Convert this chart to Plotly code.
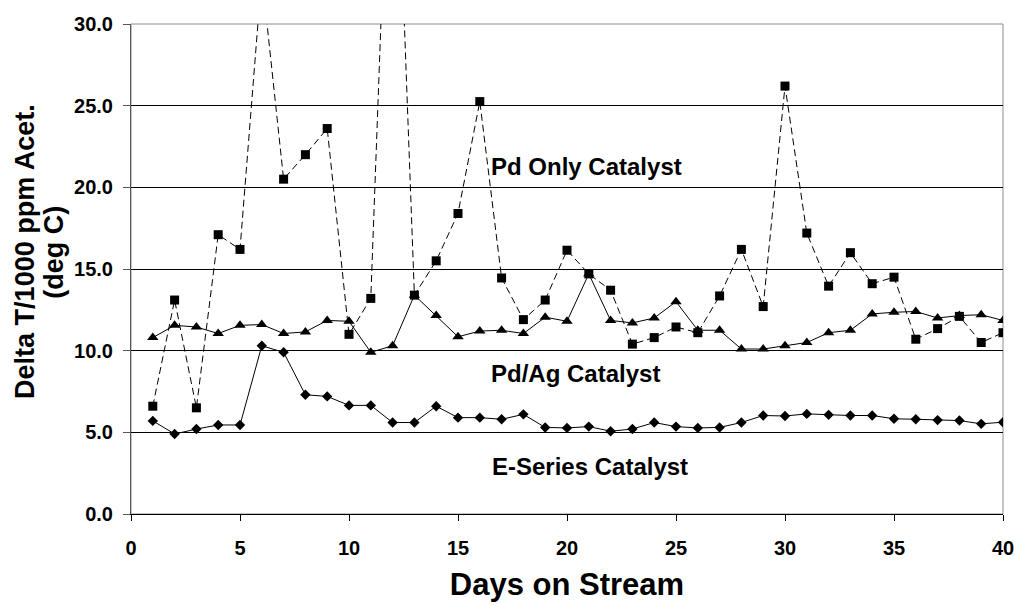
import plotly.graph_objects as go

# Days on stream and measured delta T per 1000 ppm acetylene (deg C)
days = list(range(1, 41))

pd_only = [6.6, 13.1, 6.5, 17.1, 16.2, 33.0, 20.5, 22.0, 23.6, 11.0,
           13.2, 49.5, 13.4, 15.5, 18.4, 25.25, 14.45, 11.9, 13.1, 16.15,
           14.7, 13.7, 10.4, 10.8, 11.45, 11.1, 13.35, 16.2, 12.7, 26.2,
           17.2, 13.95, 16.0, 14.1, 14.5, 10.7, 11.35, 12.1, 10.5, 11.1]

pd_ag = [10.8, 11.55, 11.45, 11.05, 11.55, 11.6, 11.05, 11.15, 11.85, 11.8,
         9.9, 10.3, 13.4, 12.15, 10.85, 11.2, 11.25, 11.05, 12.05, 11.8,
         14.7, 11.85, 11.7, 12.0, 13.0, 11.25, 11.25, 10.1, 10.1, 10.3,
         10.5, 11.1, 11.25, 12.25, 12.35, 12.4, 12.0, 12.15, 12.2, 11.85]

e_series = [5.7, 4.9, 5.2, 5.45, 5.45, 10.3, 9.9, 7.3, 7.2, 6.65,
            6.65, 5.6, 5.6, 6.6, 5.9, 5.9, 5.8, 6.1, 5.3, 5.27,
            5.35, 5.07, 5.2, 5.6, 5.35, 5.27, 5.3, 5.6, 6.03, 6.0,
            6.13, 6.07, 6.03, 6.03, 5.83, 5.8, 5.75, 5.72, 5.52, 5.62]

series_labels = ["Pd Only Catalyst", "Pd/Ag Catalyst", "E-Series Catalyst"]
label_pos_x = [20.9, 20.4, 21.05]
label_pos_y = [21.25, 8.6, 2.9]

y_title_lines = ["Delta T/1000 ppm Acet.", "(deg C)"]

y_ticks = [0, 5, 10, 15, 20, 25, 30]
x_ticks = [0, 5, 10, 15, 20, 25, 30, 35, 40]

FONT = "Arial, Liberation Sans, sans-serif"

fig = go.Figure()

fig.add_trace(go.Scatter(
    x=days, y=pd_only, mode="lines+markers", name=series_labels[0],
    line=dict(color="black", width=1, dash="7px,4px"),
    marker=dict(symbol="square", size=9, color="black"),
))
fig.add_trace(go.Scatter(
    x=days, y=pd_ag, mode="lines+markers", name=series_labels[1],
    line=dict(color="black", width=1),
    marker=dict(symbol="triangle-up", size=10, color="black"),
))
fig.add_trace(go.Scatter(
    x=days, y=e_series, mode="lines+markers", name=series_labels[2],
    line=dict(color="black", width=1),
    marker=dict(symbol="diamond", size=8, color="black"),
))

for text, tx, ty in zip(series_labels, label_pos_x, label_pos_y):
    fig.add_annotation(x=tx, y=ty, xref="x", yref="y", text=text,
                       showarrow=False, xanchor="center", yanchor="middle",
                       font=dict(family=FONT, size=24, color="black", weight="bold"))

# two-line rotated y-axis title, set with tight line spacing
for line_text, px in zip(y_title_lines, [-0.1215, -0.0885]):
    fig.add_annotation(x=px, y=0.535, xref="paper", yref="paper", text=line_text,
                       textangle=-90, showarrow=False,
                       xanchor="center", yanchor="middle",
                       font=dict(family=FONT, size=27, color="black", weight="bold"))

# gray frame on top and right of plot area
fig.add_shape(type="rect", xref="paper", yref="paper", x0=0, y0=0, x1=1, y1=1,
              line=dict(color="#8c8c8c", width=1), layer="below")

fig.update_layout(
    width=1015, height=605,
    margin=dict(l=131, r=12, t=24, b=91),
    paper_bgcolor="white", plot_bgcolor="white",
    showlegend=False,
    font=dict(family=FONT, color="black"),
)

fig.update_xaxes(
    range=[0, 40], tickvals=x_ticks, showgrid=False, zeroline=False,
    showline=True, linecolor="black", linewidth=1,
    ticks="outside", ticklen=6, tickcolor="black",
    tickfont=dict(family=FONT, size=20, weight="bold"),
    ticklabelstandoff=10, automargin=False,
    title=dict(text="Days on Stream", standoff=15,
               font=dict(family=FONT, size=31, weight="bold")),
)
fig.update_yaxes(
    range=[0, 30], tickvals=y_ticks, tickformat=".1f",
    showgrid=True, gridcolor="black", gridwidth=1, zeroline=False,
    showline=True, linecolor="#555555", linewidth=1,
    ticks="outside", ticklen=7, tickcolor="#555555",
    tickfont=dict(family=FONT, size=20, weight="bold"),
    ticklabelstandoff=6, automargin=False,
)

fig.write_html("out.html")
